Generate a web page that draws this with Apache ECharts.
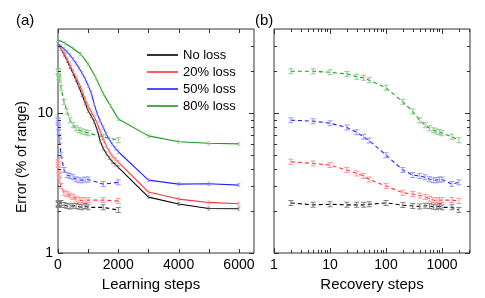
<!DOCTYPE html>
<html><head><meta charset="utf-8">
<script src="https://cdn.jsdelivr.net/npm/echarts@6/dist/echarts.min.js"></script>
<style>html,body{margin:0;padding:0;background:#fff}#c{width:485px;height:298px}</style>
</head><body><div id="c"></div>
<script>
// ---- data ----
const seriesNames = ['No loss', '20% loss', '50% loss', '80% loss'];

// Panel (a): learning curves (solid)
const learnSteps = [0,100,200,300,400,500,600,700,800,900,1000,1100,1200,1300,1400,1500,1600,1700,1800,1900,2000,3000,4000,5000,6000];
const learnStepsGreen = [0,250,500,750,1000,1250,1500,1750,2000,3000,4000,5000,6000];
const learnNoLoss = [31.5,28.8,26.3,23.8,21.4,19.2,17.2,15.3,13.5,11.8,10.4,9.6,8.7,7.6,6.3,5.6,5.15,4.8,4.5,4.3,4.1,2.51,2.24,2.08,2.07];
const learn20 = [31.3,29,26.8,24.4,22,19.8,18,16.2,14.4,12.6,11.2,10.3,9.4,8.5,7.4,6.5,5.85,5.35,4.95,4.7,4.47,2.73,2.43,2.30,2.25];
const learn50 = [31,30,28.8,27.5,26,24.3,22.7,21,19.3,17.6,15.8,14,11.6,9.9,8.8,7.9,7.1,6.5,6.0,5.6,5.3,3.32,3.11,3.13,3.06];
const learn80 = [33.5,31.5,29,26.5,22.5,18,13.8,11.2,9.1,6.88,6.24,6.1,6.03];

// Recovery curves (dashed), shown in both panels
const recSteps = [2,5,10,20,30,40,50,100,200,300,400,500,600,700,800,900,1000,1500,2000];
const recNoLoss = [2.28,2.21,2.23,2.21,2.21,2.21,2.23,2.28,2.20,2.17,2.15,2.18,2.17,2.14,2.12,2.17,2.12,2.12,2.03];
const rec20 = [4.49,4.37,4.26,3.92,3.71,3.55,3.36,3.01,2.70,2.64,2.58,2.52,2.44,2.39,2.37,2.39,2.39,2.39,2.35];
const rec50 = [8.91,8.77,8.48,7.9,7.29,6.77,6.38,5.01,3.92,3.61,3.55,3.48,3.37,3.32,3.32,3.35,3.36,3.11,3.2];
const rec80 = [19.95,19.95,19.6,19.1,18.2,17.9,17.2,15.2,12.05,10.3,8.9,8.2,7.8,7.55,7.4,7.3,7.2,6.77,6.41];

// tick label values
const xLabelsA = [0, 2000, 4000, 6000];
const xLabelsB = [1, 10, 100, 1000];
const yLabels = [1, 10];

// ---- styles ----
const FONT = 'Liberation Sans, Arial, Helvetica, sans-serif';
const lineColors = ['#000000', '#ff3333', '#2222ff', '#1f991f'];
const barColors = ['#808080', '#ff9a9a', '#9a9aff', '#8fcc8f'];
const IBAR = 'path://M0,0H5V1H3V5H5V6H0V5H2V1H0Z';

const zip = (xs, ys) => xs.map((x, i) => [x, ys[i]]);
const learnX = [learnSteps, learnSteps, learnSteps, learnStepsGreen];
const learnY = [learnNoLoss, learn20, learn50, learn80];
const recY = [recNoLoss, rec20, rec50, rec80];

const series = [];
for (let i = 0; i < 4; i++) {
  series.push({
    type: 'line', name: seriesNames[i], xAxisIndex: 0, yAxisIndex: 0,
    data: zip(learnX[i], learnY[i]),
    lineStyle: { color: lineColors[i], width: 1.1 },
    itemStyle: { color: barColors[i] },
    symbol: IBAR, symbolSize: [3, 4], showSymbol: true, z: 3 + i
  });
}
for (let g = 0; g < 2; g++) {
  for (let i = 0; i < 4; i++) {
    series.push({
      type: 'line', name: seriesNames[i], xAxisIndex: g, yAxisIndex: g,
      data: zip(recSteps, recY[i]),
      lineStyle: { color: lineColors[i], width: 1.1, type: [4, 3] },
      itemStyle: { color: barColors[i] },
      symbol: IBAR, symbolSize: [5, 6], showSymbol: true, z: 3
    });
  }
}

// tick marks (inside, on all four sides) drawn through axis scales
function decadeTicks(lo, hi) {
  const t = [];
  for (let d = lo; d < hi; d *= 10) {
    for (let k = 1; k <= 9; k++) t.push([k * d, k === 1 ? 5 : 3]);
  }
  return t;
}
const yTickList = decadeTicks(1, 100).filter(t => t[0] < 40);
const xTickListA = [0,1000,2000,3000,4000,5000,6000].map(v => [v, 4]);
const xTickListB = decadeTicks(1, 10000).filter(t => t[0] < 3162);

function tickSeries(g, xList, yList, xRef, yRef) {
  return {
    type: 'custom', xAxisIndex: g, yAxisIndex: g, silent: true, z: 20,
    data: [[xRef, yRef]],
    renderItem: function (params, api) {
      const cs = params.coordSys;
      const x0 = cs.x, x1 = cs.x + cs.width, y0 = cs.y, y1 = cs.y + cs.height;
      const ch = [];
      const st = { stroke: '#333', lineWidth: 1 };
      xList.forEach(([v, len]) => {
        const px = Math.round(api.coord([v, yRef])[0]) + 0.5;
        ch.push({ type: 'line', shape: { x1: px, y1: y1, x2: px, y2: y1 - len }, style: st });
        ch.push({ type: 'line', shape: { x1: px, y1: y0, x2: px, y2: y0 + len }, style: st });
      });
      yList.forEach(([v, len]) => {
        const py = Math.round(api.coord([xRef, v])[1]) + 0.5;
        ch.push({ type: 'line', shape: { x1: x0, y1: py, x2: x0 + len, y2: py }, style: st });
        ch.push({ type: 'line', shape: { x1: x1, y1: py, x2: x1 - len, y2: py }, style: st });
      });
      return { type: 'group', children: ch };
    }
  };
}
series.push(tickSeries(0, xTickListA, yTickList, 0, 1));
series.push(tickSeries(1, xTickListB, yTickList, 1, 1));

const isIn = (arr, v) => arr.some(a => Math.abs(a - v) < 1e-6 * Math.max(1, a));
const labelStyle = { color: '#000', fontSize: 14, fontFamily: FONT };

const option = {
  animation: false,
  backgroundColor: '#fff',
  title: [
    { text: '(a)', left: 16, top: 13, padding: 0, textStyle: { fontSize: 15, fontWeight: 'normal', color: '#000', fontFamily: FONT } },
    { text: '(b)', left: 255, top: 13, padding: 0, textStyle: { fontSize: 15, fontWeight: 'normal', color: '#000', fontFamily: FONT } }
  ],
  legend: {
    orient: 'vertical', left: 147, top: 48, padding: 0,
    icon: 'rect', itemWidth: 31, itemHeight: 1.6, itemGap: 3,
    textStyle: { fontSize: 13, color: '#000', fontFamily: FONT, lineHeight: 14 },
    data: seriesNames.map((n, i) => ({ name: n, itemStyle: { color: lineColors[i] } }))
  },
  grid: [
    { left: 58, top: 29, width: 196, height: 224, show: true, borderColor: '#333', borderWidth: 1, backgroundColor: 'transparent' },
    { left: 274, top: 29, width: 196, height: 224, show: true, borderColor: '#333', borderWidth: 1, backgroundColor: 'transparent' }
  ],
  xAxis: [
    {
      gridIndex: 0, type: 'value', min: 0, max: 6500, interval: 2000,
      axisLine: { show: false }, axisTick: { show: false }, splitLine: { show: false },
      axisLabel: Object.assign({ margin: 5, formatter: v => isIn(xLabelsA, v) ? String(v) : '' }, labelStyle),
      name: 'Learning steps', nameLocation: 'middle', nameGap: 23,
      nameTextStyle: { fontSize: 15, color: '#000', fontFamily: FONT, padding: [0, 10, 0, 0] }
    },
    {
      gridIndex: 1, type: 'log', logBase: 10, min: 1, max: 3162.28,
      axisLine: { show: false }, axisTick: { show: false }, splitLine: { show: false },
      axisLabel: Object.assign({ margin: 5, formatter: v => isIn(xLabelsB, v) ? String(Math.round(v)) : '' }, labelStyle),
      name: 'Recovery steps', nameLocation: 'middle', nameGap: 23,
      nameTextStyle: { fontSize: 15, color: '#000', fontFamily: FONT }
    }
  ],
  yAxis: [
    {
      gridIndex: 0, type: 'log', logBase: 10, min: 1, max: 40,
      axisLine: { show: false }, axisTick: { show: false }, splitLine: { show: false },
      axisLabel: Object.assign({ margin: 5, formatter: v => isIn(yLabels, v) ? String(Math.round(v)) : '' }, labelStyle),
      name: 'Error (% of range)', nameLocation: 'middle', nameGap: 29,
      nameTextStyle: { fontSize: 14, color: '#000', fontFamily: FONT, padding: [0, 32, 0, 0] }
    },
    {
      gridIndex: 1, type: 'log', logBase: 10, min: 1, max: 40,
      axisLine: { show: false }, axisTick: { show: false }, splitLine: { show: false },
      axisLabel: { show: false }
    }
  ],
  series: series
};

const chart = echarts.init(document.getElementById('c'), null, { renderer: 'canvas' });
chart.setOption(option);
</script>
</body></html>
